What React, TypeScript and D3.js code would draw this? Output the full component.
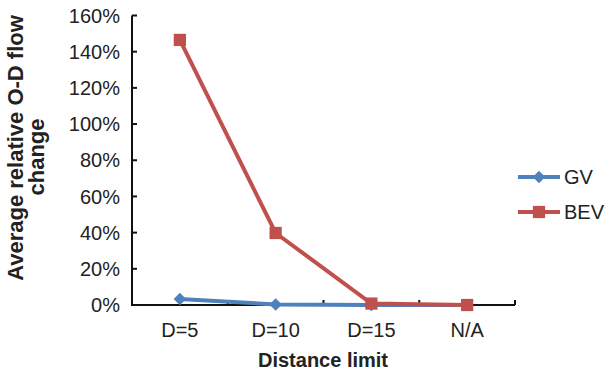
import React, { useEffect, useRef } from "react";
import * as d3 from "d3";

const categories = ["D=5", "D=10", "D=15", "N/A"];
const gvValues = [3.3, 0.3, 0.0, 0.0];
const bevValues = [146.5, 39.8, 0.8, 0.0];
const yTicks = [0, 20, 40, 60, 80, 100, 120, 140, 160];
const seriesNames = ["GV", "BEV"];

const W = 605;
const H = 373;
const BLUE = "#4F81BD";
const RED = "#C0504D";
const FONT = "'Liberation Sans', Arial, Helvetica, sans-serif";

export default function App() {
  const ref = useRef<SVGSVGElement>(null);

  useEffect(() => {
    const svg = d3.select(ref.current);
    svg.selectAll("*").remove();

    const x = d3.scaleBand<string>().domain(categories).range([132, 515]);
    const y = d3.scaleLinear().domain([0, 160]).range([305, 15.5]);
    const cx = (c: string) => (x(c) as number) + x.bandwidth() / 2;

    // Y axis
    svg.append("line").attr("x1", 132).attr("x2", 132).attr("y1", y(160)).attr("y2", y(0))
      .attr("stroke", "#111").attr("stroke-width", 2);
    yTicks.forEach((t) => {
      svg.append("line").attr("x1", 132).attr("x2", 137).attr("y1", y(t)).attr("y2", y(t))
        .attr("stroke", "#111").attr("stroke-width", 2);
      svg.append("text").attr("x", 120).attr("y", y(t)).attr("dy", "0.36em")
        .attr("text-anchor", "end").attr("font-family", FONT).attr("font-size", 20)
        .attr("fill", "#222").text(`${t}%`);
    });

    // X axis
    svg.append("line").attr("x1", 131).attr("x2", x.range()[1]).attr("y1", y(0)).attr("y2", y(0))
      .attr("stroke", "#111").attr("stroke-width", 2);
    categories.forEach((c) => {
      const edge = (x(c) as number) + x.bandwidth();
      svg.append("line").attr("x1", edge).attr("x2", edge).attr("y1", y(0)).attr("y2", y(0) - 5)
        .attr("stroke", "#111").attr("stroke-width", 2);
      svg.append("text").attr("x", cx(c)).attr("y", 337)
        .attr("text-anchor", "middle").attr("font-family", FONT).attr("font-size", 20)
        .attr("fill", "#222").text(c);
    });

    // Axis titles
    svg.append("text").attr("x", 323).attr("y", 367).attr("text-anchor", "middle")
      .attr("font-family", FONT).attr("font-size", 20).attr("font-weight", "bold")
      .attr("fill", "#222").text("Distance limit");
    svg.append("text").attr("transform", "rotate(-90)").attr("x", -148).attr("y", 23)
      .attr("text-anchor", "middle").attr("font-family", FONT).attr("font-size", 22)
      .attr("font-weight", "bold").attr("fill", "#222").text("Average relative O-D flow");
    svg.append("text").attr("transform", "rotate(-90)").attr("x", -157).attr("y", 44)
      .attr("text-anchor", "middle").attr("font-family", FONT).attr("font-size", 22)
      .attr("font-weight", "bold").attr("fill", "#222").text("change");

    const line = d3.line<number>().x((_, i) => cx(categories[i])).y((d) => y(d));
    const diamond = d3.symbol().type(d3.symbolSquare).size(78);
    const square = d3.symbol().type(d3.symbolSquare).size(150);

    // GV
    svg.append("path").attr("d", line(gvValues)).attr("fill", "none")
      .attr("stroke", BLUE).attr("stroke-width", 4);
    gvValues.forEach((v, i) => {
      svg.append("path").attr("d", diamond())
        .attr("transform", `translate(${cx(categories[i])},${y(v)}) rotate(45)`)
        .attr("fill", BLUE);
    });
    // BEV
    svg.append("path").attr("d", line(bevValues)).attr("fill", "none")
      .attr("stroke", RED).attr("stroke-width", 4);
    bevValues.forEach((v, i) => {
      svg.append("path").attr("d", square()).attr("transform", `translate(${cx(categories[i])},${y(v)})`)
        .attr("fill", RED);
    });

    // Legend
    const legendY = [177, 212];
    const colors = [BLUE, RED];
    seriesNames.forEach((n, i) => {
      svg.append("line").attr("x1", 518).attr("x2", 560).attr("y1", legendY[i]).attr("y2", legendY[i])
        .attr("stroke", colors[i]).attr("stroke-width", 4);
      svg.append("path").attr("d", i === 0 ? diamond() : square())
        .attr("transform", `translate(539,${legendY[i]})${i === 0 ? " rotate(45)" : ""}`)
        .attr("fill", colors[i]);
      svg.append("text").attr("x", 564).attr("y", legendY[i]).attr("dy", "0.36em")
        .attr("font-family", FONT).attr("font-size", 20).attr("fill", "#222").text(n);
    });
  }, []);

  return (
    <svg ref={ref} width={W} height={H}
      style={{ position: "absolute", left: 0, top: 0, background: "#fff" }} />
  );
}
